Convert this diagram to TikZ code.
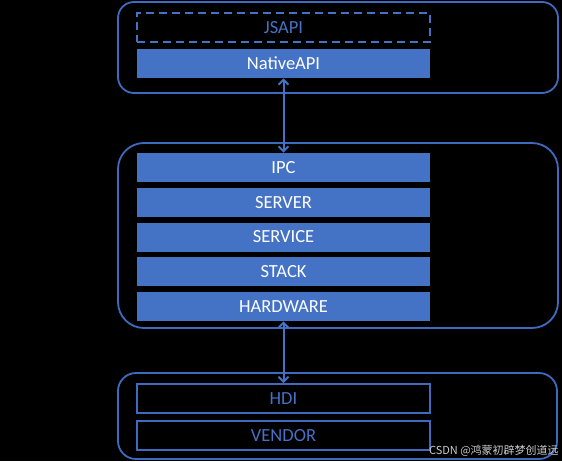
\documentclass[tikz,border=0pt]{standalone}
\usepackage{fontspec}
\setmainfont{Carlito}
\newfontfamily\cjk{Noto Sans CJK SC}
\usetikzlibrary{arrows.meta,positioning}

\definecolor{layerblue}{HTML}{4472C4}
\definecolor{frameblue}{HTML}{3E6AC0}

\begin{document}
\begin{tikzpicture}[x=1pt,y=-1pt,<->,>={Straight Barb[length=5pt,width=10pt]},
                    node distance=34.75pt,semithick]
  \tikzstyle{layer}=[rectangle,minimum width=293pt,minimum height=29pt,
                     inner sep=0pt,font=\fontsize{18.5}{20}\selectfont]
  \tikzstyle{solid layer}=[layer,fill=layerblue,text=white]
  \tikzstyle{open layer}=[layer,draw=frameblue,line width=1.8pt,text=layerblue]
  \tikzstyle{group}=[draw=frameblue,line width=1.8pt]
  \tikzstyle{link}=[draw=layerblue,line width=2pt]

  \fill[black] (0,0) rectangle (562,461);
  \useasboundingbox (0,0) rectangle (562,461);

  % groups
  \draw[group,-,rounded corners=16pt] (118,2) rectangle (558,93);
  \draw[group,-,rounded corners=26pt] (118,143) rectangle (558,328);
  \draw[group,-,rounded corners=18pt] (118,373) rectangle (557,459);

  % top
  \node[layer,draw=layerblue,dash pattern=on 8pt off 5pt,line width=1.5pt,
        text=layerblue] (js) at (283.5,27.5) {JSAPI};
  \node[solid layer]  (native) at (283.5,63.5) {NativeAPI};

  % middle
  \node[solid layer]  (ipc) at (283.5,167.5) {IPC};
  \node[solid layer]  (server)   [below of=ipc]    {SERVER};
  \node[solid layer]  (service)  [below of=server] {SERVICE};
  \node[solid layer]  (stack)    [below of=service] {STACK};
  \node[solid layer]  (hardware) [below of=stack]  {HARDWARE};

  % bottom
  \node[open layer]   (hdi) at (283.5,398.5) {HDI};
  \node[open layer]   (vendor) [below of=hdi,node distance=37pt] {VENDOR};

  \draw[link] (native.south) -- (ipc.north);
  \draw[link] (hardware.south) -- (hdi.north);

  \node[anchor=base east,text=white!80!black,inner sep=0pt,
        font=\cjk\fontsize{11}{12}\selectfont] (mark) at (559,454) {CSDN @鸿蒙初辟梦创道远};
\end{tikzpicture}
\end{document}
